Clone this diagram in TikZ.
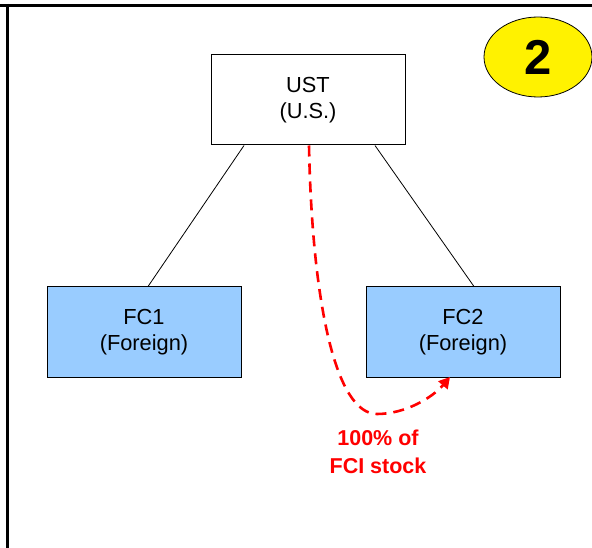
\documentclass[tikz,border=0pt]{standalone}
\usepackage{fontspec}
\setmainfont{Liberation Sans}
\usetikzlibrary{shapes.geometric,arrows.meta}
\definecolor{fcblue}{HTML}{99CCFF}
\definecolor{redline}{HTML}{FF0000}
\tikzset{
  boxnode/.style={draw=black, line width=1pt, rectangle, minimum width=194pt, minimum height=90pt, inner sep=0pt, align=center, font=\fontsize{21.8}{26.5}\selectfont},
  fcbox/.style={boxnode, fill=fcblue},
  link/.style={draw=black, line width=0.8pt},
  transfer/.style={draw=redline, line width=2.6pt, dash pattern=on 11pt off 7pt, -{Triangle[length=11pt,width=12pt]}},
  redlabel/.style={text=redline, font=\bfseries\fontsize{21.5}{28}\selectfont, align=center},
  frameline/.style={line width=3.8pt, draw=black}
}
\begin{document}
\begin{tikzpicture}[x=1pt,y=-1pt]
\useasboundingbox (0,0) rectangle (592,548);
\coordinate (tl) at (0,5.5);
\coordinate (tr) at (592,5.5);
\coordinate (lt) at (7.5,4);
\coordinate (lb) at (7.5,548);
\draw[frameline] (tl) -- (tr);
\draw[frameline] (lt) -- (lb);
\node[draw=black, line width=0.8pt, fill=yellow, ellipse, minimum width=108pt, minimum height=80pt, inner sep=0pt, font=\bfseries\fontsize{49}{49}\selectfont] (num) at (538,57) {2};
\node[boxnode, fill=white] (ust) at (308,100) {UST\\(U.S.)};
\node[fcbox] (fc1) at (144,332) {FC1\\(Foreign)};
\node[fcbox] (fc2) at (463,332) {FC2\\(Foreign)};
\draw[link] ([xshift=-64pt]ust.south) -- ([xshift=4pt]fc1.north);
\draw[link] ([xshift=67pt]ust.south) -- ([xshift=11pt]fc2.north);
\coordinate (bend) at (377,414);
\coordinate (tip) at (450,377);
\draw[transfer] ([xshift=1pt]ust.south) .. controls (312,300) and (335,414) .. (bend) .. controls (405,414) and (432,398) .. (tip);
\node[redlabel] (lbl) at (378,452) {100\% of\\FCI stock};
\end{tikzpicture}
\end{document}
